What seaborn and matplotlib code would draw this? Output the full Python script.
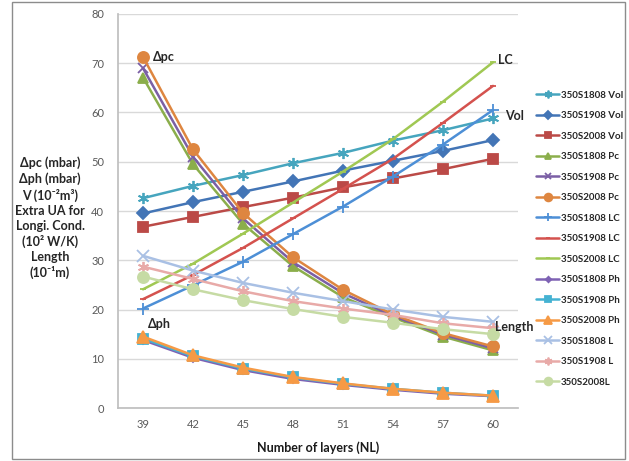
import matplotlib
matplotlib.use("Agg")
import matplotlib.pyplot as plt
import seaborn as sns
import numpy as np
import pandas as pd
from matplotlib.patches import Rectangle

layers = [39, 42, 45, 48, 51, 54, 57, 60]

vol_1808 = [42.6, 45.1, 47.3, 49.7, 51.8, 54.3, 56.4, 58.8]
vol_1908 = [39.5, 41.8, 43.9, 46.0, 48.2, 50.2, 52.2, 54.4]
vol_2008 = [36.8, 38.8, 40.8, 42.7, 44.8, 46.6, 48.5, 50.6]
pc_1808 = [67.1, 49.5, 37.4, 28.8, 22.5, 18.4, 14.5, 11.7]
pc_1908 = [69.0, 51.0, 38.5, 29.6, 23.3, 18.7, 14.9, 12.1]
pc_2008 = [71.3, 52.5, 39.6, 30.6, 24.0, 19.0, 15.2, 12.5]
lc_1808 = [20.2, 24.9, 29.7, 35.3, 40.9, 47.0, 53.5, 60.5]
lc_1908 = [22.1, 27.0, 32.5, 38.5, 44.5, 50.6, 57.9, 65.4]
lc_2008 = [24.1, 29.3, 35.4, 41.7, 48.0, 54.6, 62.2, 70.2]
ph_1808 = [13.8, 10.2, 7.7, 5.9, 4.7, 3.7, 2.9, 2.4]
ph_1908 = [14.1, 10.5, 8.0, 6.2, 4.9, 3.9, 3.1, 2.5]
ph_2008 = [14.5, 10.7, 8.2, 6.3, 5.0, 3.9, 3.1, 2.5]
len_1808 = [30.9, 27.9, 25.4, 23.4, 21.7, 20.0, 18.5, 17.5]
len_1908 = [28.7, 26.2, 23.7, 21.7, 20.2, 18.9, 17.2, 16.2]
len_2008 = [26.7, 24.1, 21.9, 20.1, 18.5, 17.3, 16.0, 15.0]

series_names = ["350S1808 Vol", "350S1908 Vol", "350S2008 Vol",
                "350S1808 Pc", "350S1908 Pc", "350S2008 Pc",
                "350S1808 LC", "350S1908 LC", "350S2008 LC",
                "350S1808 Ph", "350S1908 Ph", "350S2008 Ph",
                "350S1808 L", "350S1908 L", "350S2008L"]
series_values = [vol_1808, vol_1908, vol_2008, pc_1808, pc_1908, pc_2008,
                 lc_1808, lc_1908, lc_2008, ph_1808, ph_1908, ph_2008,
                 len_1808, len_1908, len_2008]

colors = ["#46A5BE", "#4375B6", "#BB4A47",
          "#8BAE4B", "#7B5FA5", "#DE8640",
          "#4D8FD6", "#D4524E", "#A0C853",
          "#7E62B4", "#45B2D2", "#F69A45",
          "#A9C0E4", "#E8AAA8", "#C6DBA4"]
markers = [(6, 2, 0), "D", "s",
           "^", "x", "o",
           "+", "_", "_",
           "D", "s", "^",
           "x", (6, 2, 0), "o"]
msizes = [8, 6, 7, 7, 7, 8, 8, 4, 4, 4, 7, 8, 8, 8, 8]

sns.set_theme(style="white")
plt.rcParams['font.family'] = ['Lato', 'DejaVu Sans']

fig = plt.figure(figsize=(6.29, 4.61), dpi=100)
ax = fig.add_axes([118/629, 1 - 408/461, 400/629, 394/461])

for name, vals, c, m, ms in zip(series_names, series_values, colors, markers, msizes):
    df = pd.DataFrame({"NL": layers, "val": vals})
    sns.lineplot(data=df, x="NL", y="val", ax=ax, color=c, marker=m,
                 markersize=ms, markeredgecolor=c, markeredgewidth=1.3,
                 linewidth=1.8, label=name)

ax.set_xlim(37.5, 61.5)
ax.set_ylim(0, 80)
ax.set_xticks(layers)
ax.set_yticks(np.arange(0, 81, 10))
ax.tick_params(axis="both", labelsize=8, colors="#595959", length=0, pad=8)
ax.tick_params(axis="y", length=4, color="#BFBFBF", direction="out", pad=6)
ax.yaxis.grid(True, color="#D9D9D9", linewidth=1)
ax.xaxis.grid(False)
for s in ["top", "right"]:
    ax.spines[s].set_visible(False)
ax.spines["left"].set_color("#BFBFBF")
ax.spines["bottom"].set_color("#BFBFBF")
ax.set_xlabel("Number of layers (NL)", fontsize=9, fontweight="bold", color="#1a1a1a", labelpad=8)
ax.set_ylabel("")

ax.text(39.6, 71.2, "\u0394pc", fontsize=9, fontweight="bold", va="center", ha="left")
ax.text(60.3, 70.6, "LC", fontsize=9, fontweight="bold", va="center", ha="left")
ax.text(60.75, 59.2, "Vol", fontsize=9, fontweight="bold", va="center", ha="left")
ax.text(60.1, 16.4, "Length", fontsize=9, fontweight="bold", va="center", ha="left")
ax.text(39.3, 17.1, "\u0394ph", fontsize=9, fontweight="bold", va="center", ha="left")

fig.text(50/629, 1 - 218/461,
         "\u0394pc (mbar)\n\u0394ph (mbar)\nV (10\u207b\u00b2m\u00b3)\nExtra UA for\nLongi. Cond.\n(10\u00b2 W/K)\nLength\n(10\u207b\u00b9m)",
         ha="center", va="center", fontsize=9, fontweight="bold", linespacing=1.3,
         family=['Lato', 'DejaVu Sans'])

leg = ax.legend(loc="upper left", bbox_to_anchor=(532/629, 1 - 87/461),
                bbox_transform=fig.transFigure, frameon=False, fontsize=7,
                handlelength=2.4, labelspacing=1.18, borderaxespad=0, handletextpad=0.2,
                markerscale=0.7)
for t in leg.get_texts():
    t.set_color("#262626")
    t.set_fontweight("bold")

fig.patches.append(Rectangle((12/629, 2/461), 613/629, 457/461, transform=fig.transFigure,
                             fill=False, edgecolor="#8c8c8c", linewidth=1))

fig.savefig("out.png", dpi=100)
